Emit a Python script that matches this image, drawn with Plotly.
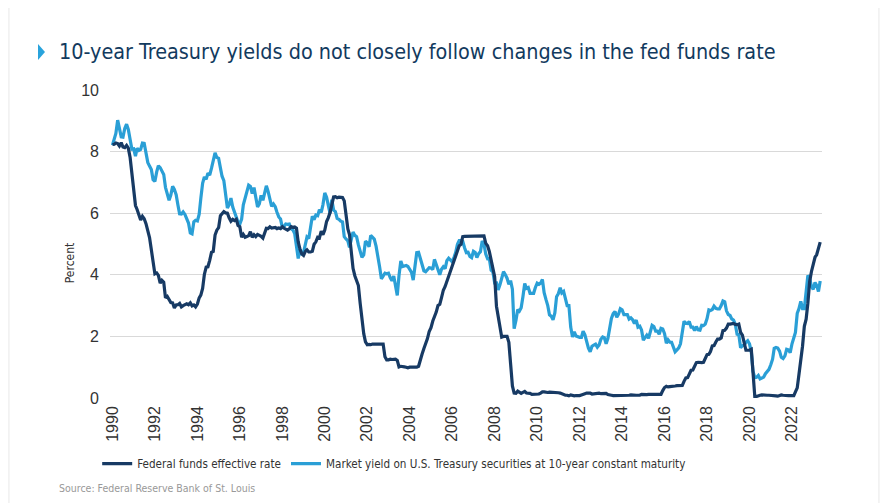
import pandas as pd
import plotly.graph_objects as go

# monthly values, Jan 1990 - May 2023 (percent)
fed_funds = [
    8.23, 8.24, 8.28, 8.26, 8.18, 8.29, 8.15, 8.13, 8.20, 8.11, 7.81, 7.31,
    6.91, 6.25, 6.12, 5.91, 5.78, 5.90, 5.82, 5.66, 5.45, 5.21, 4.81, 4.43,
    4.03, 4.06, 3.98, 3.73, 3.82, 3.76, 3.25, 3.30, 3.22, 3.10, 3.09, 2.92,
    3.02, 3.03, 3.07, 2.96, 3.00, 3.04, 3.06, 3.03, 3.09, 2.99, 3.02, 2.96,
    3.05, 3.25, 3.34, 3.56, 4.01, 4.25, 4.26, 4.47, 4.73, 4.76, 5.29, 5.45,
    5.53, 5.92, 5.98, 6.05, 6.01, 6.00, 5.85, 5.74, 5.80, 5.76, 5.80, 5.60,
    5.56, 5.22, 5.31, 5.22, 5.24, 5.27, 5.40, 5.22, 5.30, 5.24, 5.31, 5.29,
    5.25, 5.19, 5.39, 5.51, 5.50, 5.56, 5.52, 5.54, 5.54, 5.50, 5.52, 5.50,
    5.56, 5.51, 5.49, 5.45, 5.49, 5.56, 5.54, 5.55, 5.51, 5.07, 4.83, 4.68,
    4.63, 4.76, 4.81, 4.74, 4.74, 4.76, 4.99, 5.07, 5.22, 5.20, 5.42, 5.30,
    5.45, 5.73, 5.85, 6.02, 6.27, 6.53, 6.54, 6.50, 6.52, 6.51, 6.51, 6.40,
    5.98, 5.49, 5.31, 4.80, 4.21, 3.97, 3.77, 3.65, 3.07, 2.49, 2.09, 1.82,
    1.73, 1.74, 1.73, 1.75, 1.75, 1.75, 1.73, 1.74, 1.75, 1.75, 1.34, 1.24,
    1.24, 1.26, 1.25, 1.26, 1.26, 1.22, 1.01, 1.03, 1.01, 1.01, 1.00, 0.98,
    1.00, 1.01, 1.00, 1.00, 1.00, 1.03, 1.26, 1.43, 1.61, 1.76, 1.93, 2.16,
    2.28, 2.50, 2.63, 2.79, 3.00, 3.04, 3.26, 3.50, 3.62, 3.78, 4.00, 4.16,
    4.29, 4.49, 4.59, 4.79, 4.94, 4.99, 5.24, 5.25, 5.25, 5.25, 5.25, 5.24,
    5.25, 5.26, 5.26, 5.25, 5.25, 5.25, 5.26, 5.02, 4.94, 4.76, 4.49, 4.24,
    3.94, 2.98, 2.61, 2.28, 1.98, 2.00, 2.01, 2.00, 1.81, 0.97, 0.39, 0.16,
    0.15, 0.22, 0.18, 0.15, 0.18, 0.21, 0.16, 0.16, 0.15, 0.12, 0.12, 0.12,
    0.11, 0.13, 0.16, 0.20, 0.20, 0.18, 0.18, 0.19, 0.19, 0.19, 0.19, 0.18,
    0.17, 0.16, 0.14, 0.10, 0.09, 0.09, 0.07, 0.10, 0.08, 0.07, 0.08, 0.07,
    0.08, 0.10, 0.13, 0.14, 0.16, 0.16, 0.16, 0.13, 0.14, 0.16, 0.16, 0.16,
    0.14, 0.15, 0.14, 0.15, 0.11, 0.09, 0.09, 0.08, 0.08, 0.09, 0.08, 0.09,
    0.07, 0.07, 0.08, 0.09, 0.09, 0.10, 0.09, 0.09, 0.09, 0.09, 0.09, 0.12,
    0.11, 0.11, 0.11, 0.12, 0.12, 0.13, 0.13, 0.14, 0.14, 0.12, 0.12, 0.24,
    0.34, 0.38, 0.36, 0.37, 0.37, 0.38, 0.39, 0.40, 0.40, 0.40, 0.41, 0.54,
    0.65, 0.66, 0.79, 0.90, 0.91, 1.04, 1.15, 1.16, 1.15, 1.15, 1.16, 1.30,
    1.41, 1.42, 1.51, 1.69, 1.70, 1.82, 1.91, 1.91, 1.95, 2.19, 2.20, 2.27,
    2.40, 2.40, 2.41, 2.42, 2.39, 2.38, 2.40, 2.13, 2.04, 1.83, 1.55, 1.55,
    1.55, 1.58, 0.65, 0.05, 0.05, 0.08, 0.09, 0.10, 0.09, 0.09, 0.09, 0.09,
    0.09, 0.08, 0.07, 0.07, 0.06, 0.08, 0.10, 0.09, 0.08, 0.08, 0.08, 0.08,
    0.08, 0.08, 0.20, 0.33, 0.77, 1.21, 1.68, 2.33, 2.56, 3.08, 3.78, 4.10,
    4.33, 4.57, 4.65, 4.83, 5.06,
]

treasury_10y = [
    8.21, 8.47, 8.59, 9.02, 8.76, 8.48, 8.47, 8.75, 8.89, 8.72, 8.39, 8.08,
    8.09, 7.85, 8.11, 8.04, 8.07, 8.28, 8.27, 7.90, 7.65, 7.53, 7.42, 7.09,
    7.03, 7.34, 7.54, 7.48, 7.39, 7.26, 6.84, 6.59, 6.42, 6.59, 6.87, 6.77,
    6.60, 6.26, 5.98, 5.97, 6.04, 5.96, 5.81, 5.68, 5.36, 5.33, 5.72, 5.77,
    5.75, 5.97, 6.48, 6.97, 7.18, 7.10, 7.30, 7.24, 7.46, 7.74, 7.96, 7.81,
    7.78, 7.47, 7.20, 7.06, 6.63, 6.17, 6.28, 6.49, 6.20, 6.04, 5.93, 5.71,
    5.65, 5.81, 6.27, 6.51, 6.74, 6.91, 6.87, 6.64, 6.83, 6.53, 6.20, 6.30,
    6.58, 6.42, 6.69, 6.89, 6.71, 6.49, 6.22, 6.30, 6.21, 6.03, 5.88, 5.81,
    5.54, 5.57, 5.65, 5.64, 5.65, 5.50, 5.46, 5.34, 4.81, 4.53, 4.83, 4.65,
    4.72, 5.00, 5.23, 5.18, 5.54, 5.90, 5.79, 5.94, 5.92, 6.11, 6.03, 6.28,
    6.66, 6.52, 6.26, 5.99, 6.44, 6.10, 6.05, 5.83, 5.80, 5.74, 5.72, 5.24,
    5.16, 5.10, 4.89, 5.14, 5.39, 5.28, 5.24, 4.97, 4.73, 4.57, 4.65, 5.09,
    5.04, 4.91, 5.28, 5.21, 5.16, 4.93, 4.65, 4.26, 3.87, 3.94, 4.05, 4.03,
    4.05, 3.90, 3.81, 3.96, 3.57, 3.33, 3.98, 4.45, 4.27, 4.29, 4.30, 4.27,
    4.15, 4.08, 3.83, 4.35, 4.72, 4.73, 4.50, 4.28, 4.13, 4.10, 4.19, 4.23,
    4.22, 4.17, 4.50, 4.34, 4.14, 4.00, 4.18, 4.26, 4.20, 4.46, 4.54, 4.47,
    4.42, 4.57, 4.72, 4.99, 5.11, 5.11, 5.09, 4.88, 4.72, 4.73, 4.60, 4.56,
    4.76, 4.72, 4.56, 4.69, 4.75, 5.10, 5.00, 4.67, 4.52, 4.53, 4.15, 4.10,
    3.74, 3.74, 3.51, 3.68, 3.88, 4.10, 4.01, 3.89, 3.69, 3.81, 3.53, 2.25,
    2.52, 2.87, 2.82, 2.93, 3.29, 3.72, 3.56, 3.59, 3.40, 3.39, 3.40, 3.59,
    3.73, 3.69, 3.73, 3.85, 3.42, 3.20, 3.01, 2.70, 2.65, 2.54, 2.76, 3.29,
    3.39, 3.58, 3.41, 3.46, 3.17, 3.00, 3.00, 2.30, 1.98, 2.15, 2.01, 1.98,
    1.97, 1.97, 2.17, 2.05, 1.80, 1.62, 1.50, 1.68, 1.72, 1.75, 1.65, 1.72,
    1.91, 1.98, 1.96, 1.76, 1.93, 2.30, 2.58, 2.74, 2.81, 2.62, 2.72, 2.90,
    2.86, 2.71, 2.72, 2.71, 2.56, 2.60, 2.54, 2.42, 2.53, 2.30, 2.33, 2.21,
    1.88, 1.98, 2.04, 1.94, 2.20, 2.36, 2.32, 2.17, 2.17, 2.07, 2.26, 2.24,
    2.09, 1.78, 1.89, 1.81, 1.81, 1.64, 1.50, 1.56, 1.63, 1.76, 2.14, 2.49,
    2.43, 2.42, 2.48, 2.30, 2.30, 2.19, 2.32, 2.21, 2.20, 2.36, 2.35, 2.40,
    2.58, 2.86, 2.84, 2.87, 2.98, 2.91, 2.89, 2.89, 3.00, 3.15, 3.12, 2.83,
    2.71, 2.68, 2.57, 2.53, 2.40, 2.07, 2.06, 1.63, 1.70, 1.71, 1.81, 1.86,
    1.76, 1.50, 0.87, 0.66, 0.67, 0.73, 0.62, 0.65, 0.68, 0.79, 0.87, 0.93,
    1.08, 1.26, 1.61, 1.64, 1.62, 1.52, 1.32, 1.28, 1.37, 1.58, 1.56, 1.47,
    1.76, 1.93, 2.13, 2.75, 2.90, 3.14, 2.90, 2.90, 3.52, 3.98, 3.89, 3.62,
    3.53, 3.75, 3.66, 3.46, 3.80,
]

months = pd.date_range("1990-01-01", periods=len(fed_funds), freq="MS")

navy = "#173a64"
cyan = "#2a9fd6"
narrow = "DejaVu Sans Condensed, Liberation Sans Narrow, Arial Narrow, sans-serif"

fig = go.Figure()

fig.add_trace(
    go.Scatter(
        x=months,
        y=treasury_10y,
        mode="lines",
        line=dict(color=cyan, width=3.2),
        name="Market yield on U.S. Treasury securities at 10-year constant maturity",
        legendrank=2,
    ))

fig.add_trace(
    go.Scatter(
        x=months,
        y=fed_funds,
        mode="lines",
        line=dict(color=navy, width=3.2),
        name="Federal funds effective rate",
        legendrank=1,
    ))

fig.update_layout(
    width=895,
    height=503,
    margin=dict(l=102, r=81, t=82, b=113),
    paper_bgcolor="white",
    plot_bgcolor="white",
    font=dict(family="Liberation Sans, Arial, sans-serif", size=16, color="#333333"),
    showlegend=True,
    legend=dict(
        orientation="h",
        x=-0.018,
        xanchor="left",
        y=-0.166,
        yanchor="top",
        font=dict(family=narrow, size=11.6, color="#333333"),
        itemwidth=30,
        tracegroupgap=0,
    ),
    xaxis=dict(
        type="date",
        range=["1989-11-20", "2023-06-01"],
        tick0="1990-01-01",
        dtick="M24",
        tickformat="%Y",
        tickangle=-90,
        showgrid=False,
        zeroline=False,
        showline=False,
        ticks="",
        ticklabelstandoff=4,
    ),
    yaxis=dict(
        range=[0, 10],
        dtick=2,
        showgrid=True,
        gridcolor="#d9d9d9",
        gridwidth=1,
        zeroline=False,
        showline=False,
        ticks="",
        ticklabelstandoff=10,
    ),
)

# card edges and the small blue marker before the heading
fig.add_shape(
    type="rect", xref="paper", yref="paper",
    x0=-0.1419, x1=1.080, y0=-0.5, y1=1.5,
    line=dict(color="#e8e8e8", width=1),
    fillcolor="rgba(0,0,0,0)",
    layer="below",
)
fig.add_shape(
    type="path", xref="paper", yref="paper",
    path="M -0.1011 1.1494 L -0.0913 1.1234 L -0.1011 1.0974 Z",
    fillcolor="#29a3dc",
    line=dict(width=0),
)

fig.add_annotation(
    text="10-year Treasury yields do not closely follow changes in the fed funds rate",
    xref="paper", yref="paper",
    x=-0.0744, y=1.1234,
    xanchor="left", yanchor="middle",
    showarrow=False,
    font=dict(family=narrow, size=21.4, color="#123a5e"),
)

fig.add_annotation(
    text="Percent",
    xref="paper", yref="paper",
    x=-0.056, y=0.438,
    textangle=-90,
    xanchor="center", yanchor="middle",
    showarrow=False,
    font=dict(family=narrow, size=12, color="#333333"),
)

fig.add_annotation(
    text="Source: Federal Reserve Bank of St. Louis",
    xref="paper", yref="paper",
    x=-0.0744, y=-0.292,
    xanchor="left", yanchor="middle",
    showarrow=False,
    font=dict(family=narrow, size=10.5, color="#999999"),
)

fig.write_html("out.html")
